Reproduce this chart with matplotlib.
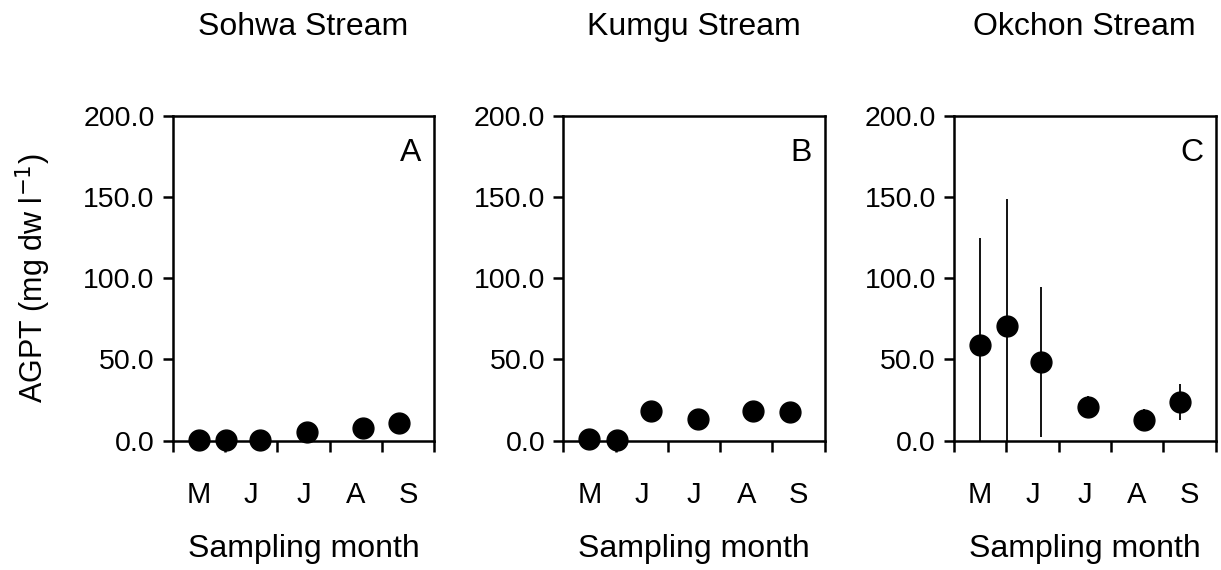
import matplotlib.pyplot as plt
from matplotlib.ticker import FormatStrFormatter

plt.rcParams["font.family"] = ["Liberation Sans", "DejaVu Sans"]

# sampling dates, in months from start of May
sample_pos = [0.5, 1.02, 1.67, 2.57, 3.63, 4.33]
month_labels = ["M", "J", "J", "A", "S"]
month_label_pos = [0.5, 1.5, 2.5, 3.5, 4.5]

streams = ["Sohwa Stream", "Kumgu Stream", "Okchon Stream"]
panel_letters = ["A", "B", "C"]

sohwa_agpt = [0.3, 0.3, 0.6, 5.5, 7.6, 11.1]
kumgu_agpt = [1.0, 0.3, 18.5, 13.4, 18.5, 17.4]
okchon_agpt = [59.0, 70.3, 48.3, 21.0, 13.0, 24.0]
okchon_err = [66.0, 78.7, 46.3, 6.7, 6.5, 11.0]

agpt = [sohwa_agpt, kumgu_agpt, okchon_agpt]
errs = [None, None, okchon_err]

fig = plt.figure(figsize=(12.21, 5.70), dpi=100)
lefts = [0.1414, 0.4613, 0.7813]
for i, left in enumerate(lefts):
    ax = fig.add_axes([left, 0.2268, 0.2142, 0.5702])
    if errs[i] is not None:
        ax.errorbar(sample_pos, agpt[i], yerr=errs[i], fmt="none", ecolor="black",
                    elinewidth=1.3, capsize=0, zorder=2)
    ax.plot(sample_pos, agpt[i], "o", color="black", markersize=15,
            clip_on=False, zorder=4)
    ax.set_xlim(0, 5)
    ax.set_ylim(0, 200)
    ax.set_xticks(range(6))
    ax.set_xticklabels([])
    ax.set_xticks(month_label_pos, labels=month_labels, minor=True)
    ax.tick_params(axis="x", which="minor", length=0, pad=29, labelsize=21)
    ax.tick_params(axis="x", which="major", direction="out", length=8, width=1.8)
    ax.set_yticks([0, 50, 100, 150, 200])
    ax.yaxis.set_major_formatter(FormatStrFormatter("%.1f"))
    ax.tick_params(axis="y", direction="out", length=7, width=1.8, pad=6, labelsize=20.5)
    for sp in ax.spines.values():
        sp.set_linewidth(1.8)
    ax.set_xlabel("Sampling month", fontsize=23, labelpad=18)
    ax.set_title(streams[i], fontsize=23, pad=58)
    ax.text(0.91, 0.885, panel_letters[i], transform=ax.transAxes,
            fontsize=23, ha="center", va="center")
    if i == 0:
        ax.set_ylabel("AGPT (mg dw l$^{-1}$)", fontsize=22, labelpad=22)

fig.savefig("out.png", dpi=100)
